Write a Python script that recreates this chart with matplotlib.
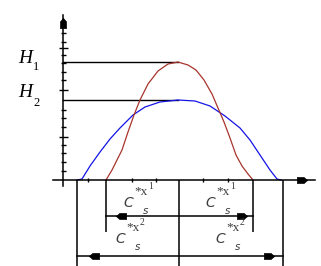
import matplotlib
matplotlib.use('Agg')
import matplotlib.pyplot as plt

# ---- data (units: 1 unit = 1 pixel, origin at axes crossing) ----
H1 = 118
H2 = 80
peak_x = 115

blue_x = [14, 19, 27, 37, 47, 57, 70, 82, 97, 115, 132, 147, 162, 177, 187, 197, 207, 214, 218]
blue_y = [0, 1, 14, 28, 41, 52, 65, 73, 78, 80, 79, 74, 64, 52, 40, 25, 10, 1, 0]

red_x = [43, 49, 54, 59, 65, 71, 77, 85, 95, 105, 115, 125, 133, 141, 149, 155, 161, 167, 173, 179, 185, 190]
red_y = [0, 10, 20, 30, 48, 65, 80, 96, 109, 116, 118, 115, 110, 100, 86, 72, 58, 42, 25, 14, 6, 0]

ytick_minor = [147, 138, 125, 117, 108, 100, 70, 62, 53, 35, 27, 18, 9]
ytick_major = [132, 90, 43]
xticks = [25, 69, 93, 140, 165]

ext_outer = [14, 116, 220]
ext_inner = [43, 190]
dim_inner = (-36, 43, 190)
dim_outer = (-76, 14, 220)

labels_top = ["1", "1"]
labels_bottom = ["2", "2"]

# ---- figure ----
fig = plt.figure(figsize=(3.21, 2.66), dpi=100)
ax = fig.add_axes([0, 0, 1, 1])
ax.set_xlim(-63, 258)
ax.set_ylim(-86, 180)
ax.axis('off')

K = 'black'
TXT = '#3c3c3c'

# arrow-head markers
right_m = [(1, 0), (0.3, 0.6), (-1, 0.6), (-1, -0.6), (0.3, -0.6), (1, 0)]
left_m = [(-x, y) for x, y in right_m]
up_m = [(y, x) for x, y in right_m]
MS = 7.5

# H lines
ax.plot([0, peak_x], [H1, H1], color=K, lw=1.0)
ax.plot([0, peak_x], [H2, H2], color=K, lw=1.0)

# curves
ax.plot(blue_x, blue_y, color='#1414e6', lw=0.9)
ax.plot(red_x, red_y, color='#a8342c', lw=0.9)

# axes
ax.plot([-10, 252], [0, 0], color=K, lw=1.1)
ax.plot([0, 0], [-6, 165], color=K, lw=1.1)
ax.plot([239], [0], marker=right_m, color=K, ms=MS, mew=0.4, ls='none')
ax.plot([0], [157], marker=up_m, color=K, ms=MS, mew=0.4, ls='none')

# ticks
ax.hlines(ytick_minor, -2.5, 2.5, color=K, lw=1.0)
ax.hlines(ytick_major, -4.5, 4.5, color=K, lw=1.0)
ax.vlines(xticks, -2, 2, color=K, lw=1.0)

# extension lines
ax.vlines(ext_outer, -86, 0, color=K, lw=1.1)
ax.vlines(ext_inner, -52, 0, color=K, lw=1.1)

# dimension lines
for (yy, x0, x1) in (dim_inner, dim_outer):
    ax.plot([x0, x1], [yy, yy], color=K, lw=1.1)
ax.plot([58], [-36], marker=left_m, color=K, ms=MS, mew=0.4, ls='none')
ax.plot([179], [-36], marker=right_m, color=K, ms=MS, mew=0.4, ls='none')
ax.plot([31], [-76], marker=left_m, color=K, ms=MS, mew=0.4, ls='none')
ax.plot([206], [-76], marker=right_m, color=K, ms=MS, mew=0.4, ls='none')

# H labels
serif = 'Liberation Serif'
ax.text(-45, 117, 'H', family=serif, style='italic', fontsize=14, ha='left', va='baseline')
ax.text(-30, 110, '1', family=serif, fontsize=9, ha='left', va='baseline')
ax.text(-45, 83, 'H', family=serif, style='italic', fontsize=14, ha='left', va='baseline')
ax.text(-30, 74, '2', family=serif, fontsize=9, ha='left', va='baseline')


def c_label(x, y, digit):
    ax.text(x, y, 'C', family='DejaVu Sans', style='italic', fontsize=10,
            color=TXT, ha='left', va='baseline')
    ax.text(x + 11, y + 12, '*x', family=serif, fontsize=9.5, color=TXT,
            ha='left', va='baseline')
    ax.text(x + 25, y + 18, digit, family=serif, fontsize=7, color=TXT,
            ha='left', va='baseline')
    ax.text(x + 20, y - 7, 's', family='DejaVu Sans', style='italic', fontsize=7.5,
            color=TXT, ha='left', va='baseline')


c_label(60, -27, labels_top[0])
c_label(142, -27, labels_top[1])
c_label(52, -63, labels_bottom[0])
c_label(152, -63, labels_bottom[1])

fig.savefig('out.png', dpi=100)
